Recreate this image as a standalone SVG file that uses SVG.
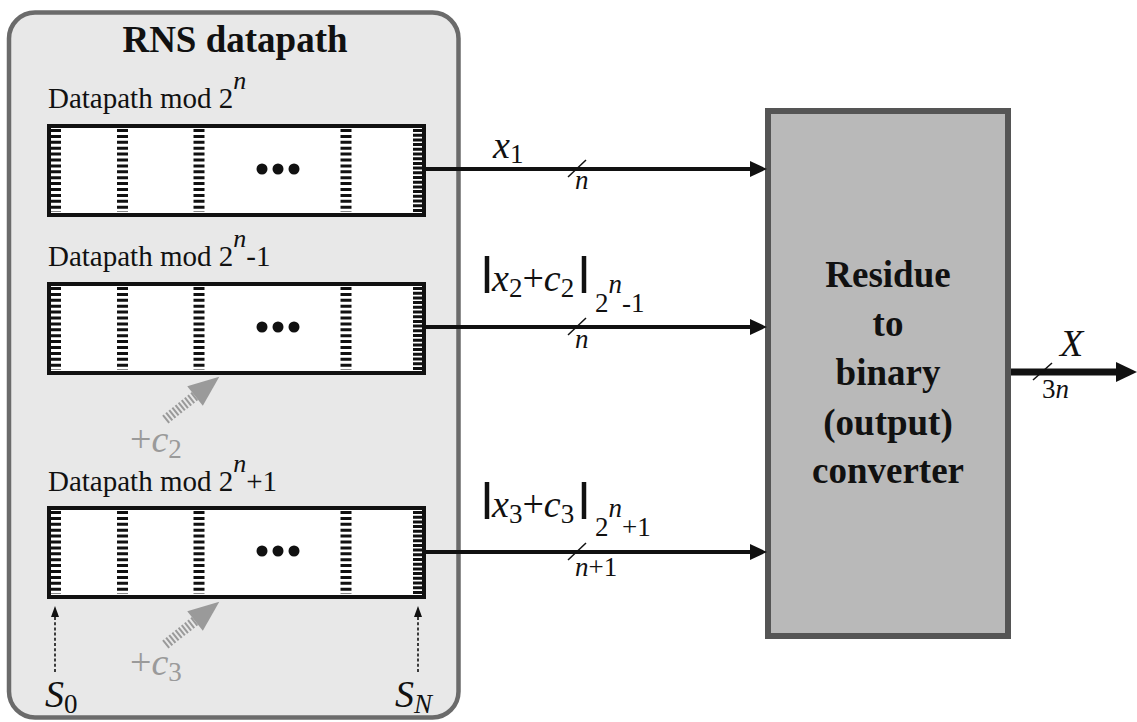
<svg xmlns="http://www.w3.org/2000/svg" width="1137" height="722" viewBox="0 0 1137 722">
<style>
text{fill:#111}
.lbl{font-size:29px}
.bold{font-weight:bold;font-size:37px;text-anchor:middle}
.m{font-size:38px;font-style:italic}
.r{font-style:normal}
.sub{font-size:27px;font-style:normal}
.nn{font-size:27px;font-style:italic}
.gray{fill:#9a9a9a}
.wire{stroke:#111;stroke-width:4;fill:none}
.slash{stroke:#111;stroke-width:1.5}
.dot{stroke:#111;stroke-width:1.6;stroke-dasharray:3 2.2;fill:none}
.hatch{stroke:#111;stroke-dasharray:3 2.9}
.vbar{stroke:#111;stroke-width:4.5}
</style>
<defs>
<g id="reg">
<rect x="2" y="2" width="375" height="89" fill="#fff" stroke="#111" stroke-width="4"/>
<line class="hatch" x1="9" y1="5" x2="9" y2="88" stroke-width="10"/>
<line class="hatch" x1="75.5" y1="5" x2="75.5" y2="88" stroke-width="11"/>
<line class="hatch" x1="152" y1="5" x2="152" y2="88" stroke-width="11"/>
<line class="hatch" x1="299" y1="5" x2="299" y2="88" stroke-width="11"/>
<line x1="370.5" y1="5" x2="370.5" y2="88" stroke="#111" stroke-width="9" stroke-dasharray="3 1.7"/>
<circle cx="215" cy="45" r="5.5" fill="#111"/>
<circle cx="231" cy="45" r="5.5" fill="#111"/>
<circle cx="247" cy="45" r="5.5" fill="#111"/>
</g>
<g id="garrow">
<line x1="-69" y1="0" x2="-31" y2="0" stroke="#9a9a9a" stroke-width="10" stroke-dasharray="2 2"/>
<polygon points="0,0 -31,-12.5 -31,12.5" fill="#9a9a9a"/>
</g>
</defs>

<g id="rns">
<rect x="9" y="12.5" width="449.5" height="705" rx="26" fill="#e8e8e8" stroke="#6b6b6b" stroke-width="4.5"/>
<text class="bold" x="235" y="52" font-family="Liberation Serif">RNS datapath</text>
</g>

<g id="dp1">
<text class="lbl" x="48" y="108" font-family="Liberation Serif">Datapath mod 2<tspan font-style="italic" font-size="26" dy="-19">n</tspan></text>
<use href="#reg" x="47" y="124"/>
</g>

<g id="dp2">
<text class="lbl" x="48" y="266" font-family="Liberation Serif">Datapath mod 2<tspan font-style="italic" font-size="26" dy="-19">n</tspan><tspan dy="19">-1</tspan></text>
<use href="#reg" x="47" y="282"/>
<use href="#garrow" transform="translate(219.3,376.7) rotate(-38.5)"/>
<text class="m gray" x="130" y="452" font-family="Liberation Serif"><tspan class="r">+</tspan>c<tspan class="sub" dy="6">2</tspan></text>
</g>

<g id="dp3">
<text class="lbl" x="48" y="491" font-family="Liberation Serif">Datapath mod 2<tspan font-style="italic" font-size="26" dy="-19">n</tspan><tspan dy="19">+1</tspan></text>
<use href="#reg" x="47" y="506"/>
<use href="#garrow" transform="translate(219.3,601.7) rotate(-38.5)"/>
<text class="m gray" x="130" y="675" font-family="Liberation Serif"><tspan class="r">+</tspan>c<tspan class="sub" dy="6">3</tspan></text>
<text class="m" x="45" y="707" font-family="Liberation Serif">S<tspan class="sub" dy="6">0</tspan></text>
<text class="m" x="395" y="707" font-family="Liberation Serif">S<tspan class="nn" dy="6">N</tspan></text>
</g>

<g id="conv">
<rect x="768" y="111" width="240" height="525" fill="#b9b9b9" stroke="#555" stroke-width="6"/>
<text class="bold" x="888" y="287" font-family="Liberation Serif">Residue</text>
<text class="bold" x="888" y="336" font-family="Liberation Serif">to</text>
<text class="bold" x="888" y="385" font-family="Liberation Serif">binary</text>
<text class="bold" x="888" y="435" font-family="Liberation Serif">(output)</text>
<text class="bold" x="888" y="483" font-family="Liberation Serif">converter</text>
</g>

<g id="connectors">
<line class="wire" x1="426" y1="169" x2="752" y2="169"/>
<polygon points="750,161 767,169 750,177" fill="#111"/>
<line class="slash" x1="568" y1="177" x2="586" y2="160"/>
<text class="m" x="493" y="158" font-family="Liberation Serif">x<tspan class="sub" dy="5">1</tspan></text>
<text class="nn" x="575" y="189" font-family="Liberation Serif">n</text>

<line class="wire" x1="426" y1="327" x2="752" y2="327"/>
<polygon points="750,319 767,327 750,335" fill="#111"/>
<line class="slash" x1="568" y1="335" x2="586" y2="318"/>
<line class="vbar" x1="487" y1="256" x2="487" y2="293"/>
<text class="m" x="492" y="291" font-family="Liberation Serif">x<tspan class="sub" dy="6">2</tspan><tspan class="r" dy="-6">+</tspan>c<tspan class="sub" dy="6">2</tspan></text>
<line class="vbar" x1="584" y1="256" x2="584" y2="293"/>
<text class="sub" x="595" y="312" font-family="Liberation Serif">2<tspan class="nn" font-size="22" dy="-19">n</tspan><tspan dy="19">-1</tspan></text>
<text class="nn" x="575" y="348" font-family="Liberation Serif">n</text>

<line class="wire" x1="426" y1="552" x2="752" y2="552"/>
<polygon points="750,544 767,552 750,560" fill="#111"/>
<line class="slash" x1="568" y1="560" x2="586" y2="543"/>
<line class="vbar" x1="487" y1="482" x2="487" y2="519"/>
<text class="m" x="492" y="517" font-family="Liberation Serif">x<tspan class="sub" dy="6">3</tspan><tspan class="r" dy="-6">+</tspan>c<tspan class="sub" dy="6">3</tspan></text>
<line class="vbar" x1="584" y1="482" x2="584" y2="519"/>
<text class="sub" x="595" y="536" font-family="Liberation Serif">2<tspan class="nn" font-size="22" dy="-19">n</tspan><tspan dy="19">+1</tspan></text>
<text class="nn" x="575" y="576" font-family="Liberation Serif">n<tspan class="r">+1</tspan></text>

<line x1="1011" y1="372" x2="1118" y2="372" stroke="#111" stroke-width="7"/>
<polygon points="1116,362 1137,372 1116,382" fill="#111"/>
<line class="slash" x1="1033" y1="380" x2="1052" y2="363"/>
<text class="m" x="1060" y="356" font-family="Liberation Serif">X</text>
<text class="nn" x="1042" y="398" font-family="Liberation Serif"><tspan class="r">3</tspan>n</text>

<line class="dot" x1="55" y1="672" x2="55" y2="615"/>
<polygon points="51,617 55,606 59,617" fill="#111"/>
<line class="dot" x1="418" y1="672" x2="418" y2="615"/>
<polygon points="414,617 418,606 422,617" fill="#111"/>
</g>
</svg>
